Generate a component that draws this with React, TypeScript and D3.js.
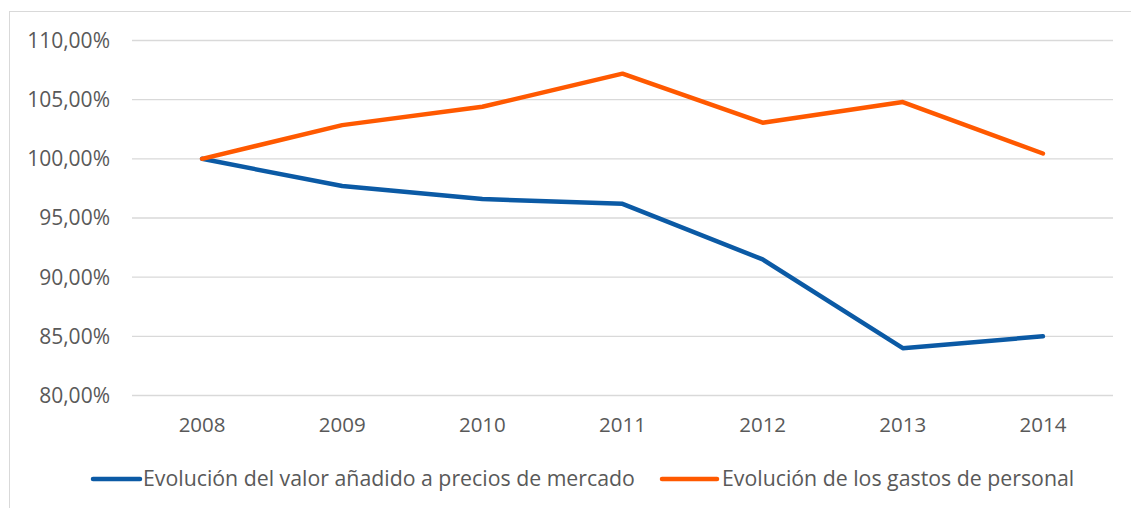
import React, { useEffect, useRef } from "react";
import * as d3 from "d3";

const years = ["2008", "2009", "2010", "2011", "2012", "2013", "2014"];
const valorAnadido = [100.0, 97.7, 96.6, 96.2, 91.5, 84.0, 85.0];
const gastosPersonal = [100.0, 102.85, 104.4, 107.2, 103.05, 104.8, 100.45];
const yTicks = [80, 85, 90, 95, 100, 105, 110];
const seriesNames = [
  "Evolución del valor añadido a precios de mercado",
  "Evolución de los gastos de personal",
];
const colors = ["#0b5aa5", "#ff5900"];

const W = 1131;
const H = 508;
const FONT = "'Open Sans', sans-serif";

const App = () => {
  const ref = useRef<SVGSVGElement>(null);

  useEffect(() => {
    const svg = d3.select(ref.current);
    svg.selectAll("*").remove();

    const left = 132;
    const right = 1113;
    const top = 40.5;
    const bottom = 395.5;

    // chart frame
    svg.append("rect")
      .attr("x", 9.5).attr("y", 11.5)
      .attr("width", W + 20).attr("height", H + 20)
      .attr("fill", "#fff").attr("stroke", "#d9d9d9");

    const x = d3.scalePoint().domain(years).range([left, right]).padding(0.5);
    const y = d3.scaleLinear().domain([80, 110]).range([bottom, top]);

    const grid = svg.append("g");
    grid.selectAll("line")
      .data(yTicks)
      .enter()
      .append("line")
      .attr("x1", left).attr("x2", right)
      .attr("y1", (d) => y(d)).attr("y2", (d) => y(d))
      .attr("stroke", "#d9d9d9").attr("stroke-width", 1.3);

    grid.selectAll("text")
      .data(yTicks)
      .enter()
      .append("text")
      .attr("x", 110).attr("y", (d) => y(d))
      .attr("dy", "0.35em")
      .attr("text-anchor", "end")
      .attr("font-family", FONT).attr("font-size", 21)
      .attr("fill", "#595959")
      .text((d) => d3.format(".2f")(d).replace(".", ",") + "%");

    svg.append("g").selectAll("text")
      .data(years)
      .enter()
      .append("text")
      .attr("x", (d) => x(d) as number).attr("y", 425)
      .attr("dy", "0.35em")
      .attr("text-anchor", "middle")
      .attr("font-family", FONT).attr("font-size", 20.5)
      .attr("fill", "#595959")
      .text((d) => d);

    const line = d3.line<number>()
      .x((_, i) => x(years[i]) as number)
      .y((d) => y(d));

    [valorAnadido, gastosPersonal].forEach((vals, i) => {
      svg.append("path")
        .datum(vals)
        .attr("d", line)
        .attr("fill", "none")
        .attr("stroke", colors[i])
        .attr("stroke-width", 4.5)
        .attr("stroke-linecap", "round")
        .attr("stroke-linejoin", "round");
    });

    // legend
    const legendX = [93, 662];
    const legend = svg.append("g").selectAll("g")
      .data(seriesNames)
      .enter()
      .append("g")
      .attr("transform", (_, i) => `translate(${legendX[i]},479)`);
    legend.append("line")
      .attr("x1", 0).attr("x2", (_, i) => (i === 0 ? 47 : 55))
      .attr("stroke", (_, i) => colors[i])
      .attr("stroke-width", 4.5)
      .attr("stroke-linecap", "round");
    legend.append("text")
      .attr("x", (_, i) => (i === 0 ? 50 : 60))
      .attr("dy", "0.35em")
      .attr("font-family", FONT).attr("font-size", 21.3)
      .attr("fill", "#595959")
      .text((d) => d);
  }, []);

  return (
    <div style={{ position: "fixed", left: 0, top: 0 }}>
      <svg ref={ref} width={W} height={H} style={{ display: "block", background: "#fff" }} />
    </div>
  );
};

export default App;
